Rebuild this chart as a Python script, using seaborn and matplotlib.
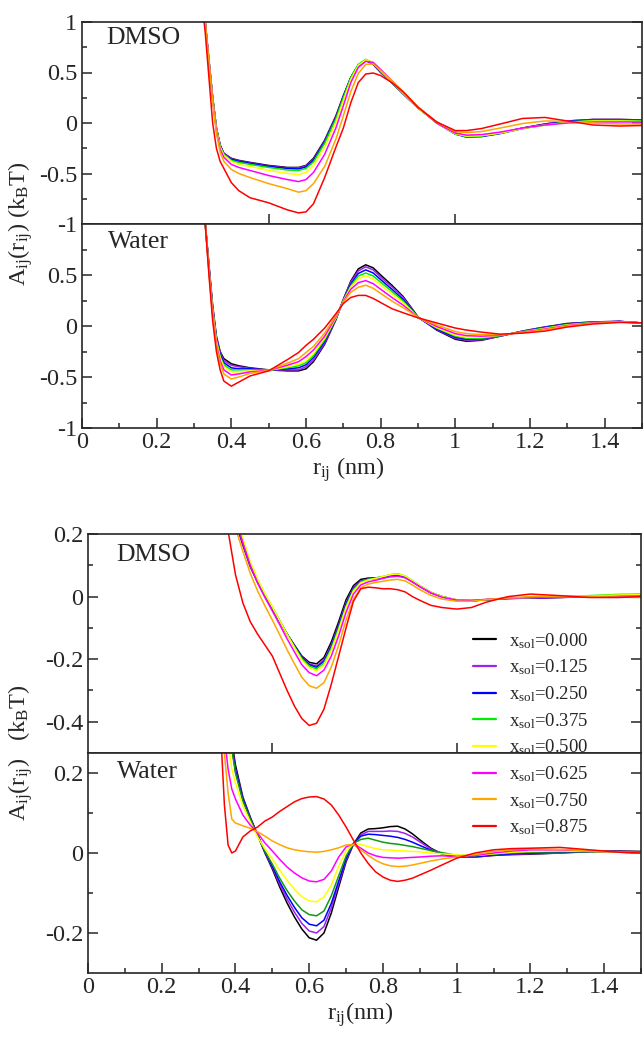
import numpy as np
import pandas as pd
import matplotlib
matplotlib.use("Agg")
import matplotlib.pyplot as plt
import seaborn as sns
from matplotlib.ticker import MultipleLocator, FixedLocator, FuncFormatter, NullLocator
from matplotlib.lines import Line2D

# ---------------- data ----------------
compositions = ["0.000", "0.125", "0.250", "0.375", "0.500", "0.625", "0.750", "0.875"]
colors = ["#000000", "#a020f0", "#0000ff", "#00ee00", "#ffff00", "#ff00ff", "#ffa500", "#ff0000"]
colors_bottom_water = ["#000000", "#a020f0", "#0000ff", "#119a11", "#ffff00", "#ff00ff", "#ffa500", "#ff0000"]

r_top = [0.32, 0.33, 0.34, 0.35, 0.36, 0.37, 0.38, 0.40, 0.42, 0.45, 0.50, 0.55, 0.58, 0.60,
         0.62, 0.65, 0.68, 0.70, 0.72, 0.74, 0.76, 0.78, 0.80, 0.83, 0.86, 0.90, 0.95, 1.00,
         1.03, 1.07, 1.12, 1.18, 1.24, 1.30, 1.37, 1.44, 1.50]

top_dmso = [
    [1.35, 1.00, 0.62, 0.25, -0.05, -0.22, -0.30, -0.35, -0.37, -0.39, -0.42, -0.44, -0.44, -0.42, -0.35, -0.17, 0.07, 0.27, 0.45, 0.57, 0.62, 0.58, 0.50, 0.40, 0.29, 0.15, 0.01, -0.10, -0.13, -0.13, -0.10, -0.05, -0.01, 0.02, 0.035, 0.035, 0.03],
    [1.35, 1.00, 0.62, 0.25, -0.05, -0.22, -0.30, -0.355, -0.375, -0.395, -0.425, -0.445, -0.445, -0.425, -0.36, -0.18, 0.06, 0.26, 0.45, 0.57, 0.62, 0.585, 0.505, 0.40, 0.29, 0.15, 0.005, -0.105, -0.135, -0.13, -0.10, -0.05, -0.01, 0.02, 0.035, 0.035, 0.03],
    [1.35, 1.00, 0.62, 0.25, -0.05, -0.22, -0.31, -0.36, -0.38, -0.40, -0.43, -0.45, -0.455, -0.435, -0.37, -0.19, 0.05, 0.26, 0.45, 0.575, 0.625, 0.59, 0.51, 0.40, 0.29, 0.15, 0.0, -0.11, -0.14, -0.135, -0.105, -0.055, -0.015, 0.015, 0.03, 0.03, 0.025],
    [1.35, 1.00, 0.62, 0.25, -0.05, -0.23, -0.31, -0.37, -0.39, -0.41, -0.44, -0.465, -0.47, -0.45, -0.385, -0.20, 0.04, 0.25, 0.45, 0.58, 0.63, 0.595, 0.51, 0.40, 0.29, 0.15, 0.0, -0.11, -0.135, -0.13, -0.10, -0.055, -0.02, 0.01, 0.025, 0.025, 0.02],
    [1.35, 1.00, 0.62, 0.24, -0.06, -0.24, -0.32, -0.38, -0.41, -0.43, -0.47, -0.50, -0.51, -0.49, -0.42, -0.24, 0.01, 0.22, 0.43, 0.57, 0.625, 0.60, 0.52, 0.41, 0.30, 0.15, 0.0, -0.105, -0.13, -0.125, -0.10, -0.055, -0.02, 0.005, 0.02, 0.02, 0.015],
    [1.35, 1.00, 0.61, 0.23, -0.08, -0.26, -0.34, -0.41, -0.44, -0.47, -0.52, -0.56, -0.58, -0.56, -0.49, -0.31, -0.05, 0.17, 0.40, 0.55, 0.61, 0.60, 0.53, 0.42, 0.31, 0.16, 0.0, -0.10, -0.12, -0.115, -0.09, -0.05, -0.02, 0.0, 0.01, 0.01, 0.01],
    [1.35, 0.99, 0.60, 0.21, -0.10, -0.29, -0.38, -0.46, -0.50, -0.54, -0.60, -0.65, -0.685, -0.67, -0.60, -0.43, -0.16, 0.07, 0.31, 0.49, 0.58, 0.585, 0.52, 0.42, 0.31, 0.16, 0.01, -0.085, -0.095, -0.085, -0.05, -0.005, 0.02, 0.015, 0.0, -0.01, -0.01],
    [1.25, 0.90, 0.45, 0.0, -0.25, -0.38, -0.45, -0.59, -0.67, -0.74, -0.79, -0.86, -0.89, -0.88, -0.80, -0.54, -0.24, -0.05, 0.20, 0.40, 0.485, 0.495, 0.47, 0.40, 0.31, 0.155, 0.01, -0.075, -0.075, -0.055, -0.01, 0.045, 0.055, 0.02, -0.02, -0.03, -0.025],
]

top_water = [
    [1.4, 1.02, 0.60, 0.20, -0.10, -0.25, -0.32, -0.37, -0.39, -0.41, -0.43, -0.44, -0.44, -0.42, -0.35, -0.18, 0.06, 0.26, 0.44, 0.56, 0.60, 0.57, 0.50, 0.40, 0.29, 0.09, -0.04, -0.13, -0.15, -0.14, -0.10, -0.05, -0.01, 0.025, 0.04, 0.045, 0.03],
    [1.4, 1.01, 0.59, 0.19, -0.11, -0.26, -0.34, -0.385, -0.40, -0.415, -0.435, -0.43, -0.43, -0.40, -0.335, -0.17, 0.065, 0.26, 0.43, 0.54, 0.58, 0.55, 0.48, 0.385, 0.28, 0.085, -0.035, -0.12, -0.14, -0.135, -0.10, -0.05, -0.01, 0.02, 0.04, 0.045, 0.03],
    [1.4, 1.01, 0.58, 0.17, -0.13, -0.28, -0.36, -0.41, -0.42, -0.42, -0.435, -0.42, -0.41, -0.38, -0.31, -0.15, 0.07, 0.255, 0.41, 0.515, 0.55, 0.52, 0.455, 0.36, 0.26, 0.085, -0.03, -0.11, -0.13, -0.125, -0.095, -0.055, -0.015, 0.02, 0.035, 0.045, 0.03],
    [1.4, 1.01, 0.57, 0.16, -0.14, -0.30, -0.38, -0.43, -0.43, -0.43, -0.435, -0.41, -0.39, -0.36, -0.29, -0.135, 0.075, 0.25, 0.395, 0.49, 0.52, 0.49, 0.43, 0.34, 0.245, 0.085, -0.02, -0.10, -0.12, -0.12, -0.095, -0.055, -0.02, 0.015, 0.035, 0.04, 0.03],
    [1.4, 1.01, 0.56, 0.15, -0.15, -0.31, -0.40, -0.45, -0.45, -0.44, -0.435, -0.40, -0.375, -0.34, -0.27, -0.12, 0.08, 0.245, 0.38, 0.465, 0.49, 0.46, 0.40, 0.315, 0.23, 0.085, -0.015, -0.09, -0.11, -0.11, -0.09, -0.06, -0.025, 0.01, 0.03, 0.04, 0.03],
    [1.4, 1.01, 0.55, 0.12, -0.18, -0.34, -0.43, -0.48, -0.47, -0.45, -0.435, -0.385, -0.35, -0.30, -0.235, -0.10, 0.09, 0.24, 0.36, 0.425, 0.445, 0.415, 0.36, 0.28, 0.205, 0.085, -0.005, -0.075, -0.095, -0.10, -0.09, -0.06, -0.03, 0.005, 0.03, 0.04, 0.03],
    [1.4, 1.01, 0.53, 0.10, -0.20, -0.37, -0.47, -0.52, -0.50, -0.465, -0.435, -0.365, -0.32, -0.26, -0.20, -0.07, 0.10, 0.235, 0.33, 0.38, 0.40, 0.37, 0.32, 0.245, 0.18, 0.085, 0.01, -0.055, -0.075, -0.085, -0.085, -0.065, -0.035, 0.0, 0.025, 0.04, 0.03],
    [1.4, 1.00, 0.50, 0.05, -0.25, -0.43, -0.54, -0.59, -0.55, -0.49, -0.44, -0.33, -0.26, -0.19, -0.13, -0.02, 0.12, 0.22, 0.28, 0.30, 0.30, 0.27, 0.23, 0.17, 0.13, 0.08, 0.03, -0.02, -0.04, -0.06, -0.08, -0.07, -0.05, -0.01, 0.02, 0.035, 0.03],
]

r_bot_dmso = [0.36, 0.38, 0.40, 0.42, 0.44, 0.46, 0.48, 0.50, 0.52, 0.54, 0.56, 0.58, 0.60, 0.62,
              0.64, 0.66, 0.68, 0.70, 0.72, 0.74, 0.76, 0.78, 0.80, 0.82, 0.84, 0.86, 0.88, 0.90,
              0.93, 0.96, 1.00, 1.04, 1.08, 1.14, 1.20, 1.28, 1.36, 1.44, 1.50]

bot_dmso = [
    [0.45, 0.33, 0.24, 0.165, 0.096, 0.045, 0.0, -0.04, -0.08, -0.12, -0.155, -0.19, -0.21, -0.215, -0.195, -0.145, -0.08, -0.01, 0.035, 0.055, 0.059, 0.06, 0.062, 0.067, 0.07, 0.062, 0.047, 0.032, 0.012, 0.0, -0.012, -0.014, -0.01, -0.006, -0.005, -0.003, 0.0, 0.003, 0.003],
    [0.46, 0.335, 0.245, 0.17, 0.10, 0.048, 0.003, -0.038, -0.079, -0.12, -0.157, -0.193, -0.215, -0.222, -0.203, -0.155, -0.09, -0.02, 0.028, 0.05, 0.056, 0.058, 0.061, 0.066, 0.068, 0.062, 0.048, 0.033, 0.012, 0.0, -0.011, -0.014, -0.01, -0.006, -0.005, -0.003, 0.0, 0.003, 0.004],
    [0.46, 0.34, 0.25, 0.175, 0.104, 0.05, 0.005, -0.036, -0.078, -0.12, -0.158, -0.195, -0.218, -0.226, -0.207, -0.16, -0.095, -0.025, 0.025, 0.048, 0.055, 0.058, 0.062, 0.067, 0.069, 0.063, 0.049, 0.034, 0.013, 0.0, -0.011, -0.013, -0.01, -0.006, -0.004, -0.002, 0.001, 0.004, 0.005],
    [0.47, 0.345, 0.255, 0.18, 0.108, 0.053, 0.007, -0.034, -0.077, -0.12, -0.16, -0.198, -0.222, -0.231, -0.212, -0.165, -0.10, -0.03, 0.022, 0.047, 0.055, 0.059, 0.064, 0.07, 0.073, 0.066, 0.051, 0.035, 0.014, 0.0, -0.011, -0.013, -0.01, -0.005, -0.003, 0.0, 0.003, 0.007, 0.008],
    [0.48, 0.35, 0.26, 0.185, 0.112, 0.056, 0.009, -0.033, -0.077, -0.121, -0.163, -0.203, -0.228, -0.238, -0.218, -0.172, -0.107, -0.035, 0.018, 0.044, 0.053, 0.058, 0.064, 0.07, 0.072, 0.066, 0.051, 0.035, 0.014, 0.0, -0.01, -0.012, -0.009, -0.005, -0.003, 0.0, 0.002, 0.005, 0.006],
    [0.46, 0.34, 0.25, 0.172, 0.10, 0.044, -0.003, -0.046, -0.09, -0.135, -0.177, -0.218, -0.243, -0.253, -0.235, -0.19, -0.125, -0.05, 0.008, 0.037, 0.047, 0.052, 0.058, 0.063, 0.065, 0.06, 0.047, 0.032, 0.012, -0.002, -0.011, -0.012, -0.009, -0.005, -0.003, -0.002, 0.0, 0.0, 0.0],
    [0.42, 0.31, 0.22, 0.145, 0.075, 0.018, -0.03, -0.075, -0.122, -0.17, -0.215, -0.258, -0.285, -0.293, -0.275, -0.225, -0.155, -0.075, -0.008, 0.028, 0.04, 0.045, 0.049, 0.053, 0.055, 0.05, 0.037, 0.022, 0.004, -0.008, -0.015, -0.015, -0.01, -0.004, 0.0, 0.0, 0.0, -0.002, -0.003],
    [0.32, 0.21, 0.07, -0.02, -0.08, -0.12, -0.155, -0.19, -0.245, -0.30, -0.35, -0.39, -0.412, -0.405, -0.36, -0.28, -0.19, -0.10, -0.015, 0.025, 0.03, 0.028, 0.025, 0.025, 0.022, 0.015, 0.0, -0.012, -0.028, -0.035, -0.04, -0.035, -0.018, 0.0, 0.008, 0.003, -0.003, -0.003, 0.0],
]

r_bot_water = [0.36, 0.37, 0.38, 0.39, 0.40, 0.42, 0.44, 0.46, 0.48, 0.50, 0.52, 0.54, 0.56, 0.58,
               0.60, 0.62, 0.64, 0.66, 0.68, 0.70, 0.72, 0.74, 0.76, 0.78, 0.80, 0.82, 0.84, 0.86,
               0.88, 0.90, 0.93, 0.96, 1.00, 1.05, 1.10, 1.15, 1.20, 1.28, 1.36, 1.44, 1.50]

bot_water = [
    [0.6, 0.48, 0.37, 0.28, 0.22, 0.14, 0.09, 0.045, 0.0, -0.04, -0.085, -0.125, -0.16, -0.19, -0.212, -0.218, -0.2, -0.15, -0.085, -0.022, 0.022, 0.05, 0.06, 0.061, 0.063, 0.066, 0.067, 0.06, 0.048, 0.033, 0.012, -0.002, -0.01, -0.01, -0.006, -0.004, -0.003, 0.0, 0.004, 0.005, 0.004],
    [0.58, 0.46, 0.355, 0.27, 0.21, 0.137, 0.088, 0.045, 0.002, -0.036, -0.078, -0.115, -0.148, -0.176, -0.195, -0.2, -0.184, -0.137, -0.077, -0.018, 0.022, 0.045, 0.054, 0.054, 0.054, 0.055, 0.054, 0.049, 0.04, 0.028, 0.01, -0.002, -0.009, -0.01, -0.006, -0.003, -0.002, 0.0, 0.003, 0.004, 0.003],
    [0.57, 0.45, 0.35, 0.265, 0.205, 0.135, 0.087, 0.045, 0.003, -0.033, -0.072, -0.106, -0.136, -0.162, -0.178, -0.182, -0.168, -0.126, -0.07, -0.014, 0.024, 0.042, 0.047, 0.046, 0.044, 0.042, 0.039, 0.034, 0.027, 0.019, 0.007, -0.002, -0.008, -0.009, -0.005, -0.002, 0.0, 0.002, 0.003, 0.003, 0.002],
    [0.56, 0.44, 0.34, 0.26, 0.2, 0.13, 0.085, 0.044, 0.004, -0.028, -0.063, -0.094, -0.12, -0.142, -0.154, -0.157, -0.145, -0.107, -0.057, -0.008, 0.024, 0.034, 0.037, 0.032, 0.027, 0.024, 0.022, 0.019, 0.016, 0.012, 0.006, 0.001, -0.006, -0.007, -0.003, 0.0, 0.002, 0.003, 0.003, 0.002, 0.001],
    [0.48, 0.36, 0.28, 0.21, 0.175, 0.118, 0.078, 0.04, 0.01, -0.015, -0.043, -0.068, -0.091, -0.109, -0.12, -0.122, -0.11, -0.08, -0.033, 0.005, 0.023, 0.022, 0.016, 0.011, 0.008, 0.007, 0.006, 0.005, 0.004, 0.003, 0.0, -0.002, -0.005, -0.006, -0.002, 0.002, 0.004, 0.005, 0.004, 0.002, 0.001],
    [0.40, 0.29, 0.21, 0.16, 0.135, 0.095, 0.07, 0.05, 0.025, 0.005, -0.016, -0.035, -0.05, -0.062, -0.07, -0.072, -0.066, -0.045, -0.01, 0.015, 0.023, 0.012, 0.0, -0.007, -0.011, -0.012, -0.013, -0.012, -0.011, -0.01, -0.008, -0.007, -0.009, -0.006, 0.0, 0.005, 0.008, 0.008, 0.005, 0.002, 0.0],
    [0.36, 0.25, 0.15, 0.085, 0.075, 0.068, 0.062, 0.053, 0.042, 0.03, 0.021, 0.013, 0.008, 0.005, 0.003, 0.002, 0.004, 0.008, 0.013, 0.02, 0.021, 0.008, -0.006, -0.018, -0.027, -0.032, -0.034, -0.033, -0.03, -0.026, -0.02, -0.015, -0.01, -0.004, 0.004, 0.008, 0.01, 0.009, 0.005, 0.002, 0.0],
    [0.30, 0.12, 0.02, 0.0, 0.005, 0.04, 0.055, 0.065, 0.08, 0.09, 0.104, 0.116, 0.128, 0.136, 0.14, 0.141, 0.135, 0.12, 0.095, 0.065, 0.032, 0.0, -0.026, -0.047, -0.06, -0.068, -0.071, -0.068, -0.063, -0.055, -0.043, -0.03, -0.013, 0.0, 0.008, 0.011, 0.012, 0.014, 0.008, 0.002, 0.0],
]

# ---------------- style ----------------
sns.set_style("ticks")
plt.rcParams["font.family"] = ["Liberation Serif", "DejaVu Serif"]
plt.rcParams["mathtext.fontset"] = "custom"
plt.rcParams["mathtext.rm"] = "Liberation Serif"
plt.rcParams["mathtext.it"] = "Liberation Serif:italic"
plt.rcParams["mathtext.bf"] = "Liberation Serif:bold"
plt.rcParams["axes.unicode_minus"] = False

W, H = 644, 1037
fig = plt.figure(figsize=(W / 100, H / 100), dpi=100)

TICK_FS = 17.5
LABEL_FS = 17.5
PANEL_FS = 18.5


def frac_axes(left, top, right, bottom):
    return fig.add_axes([left / W, 1 - bottom / H, (right - left) / W, (bottom - top) / H])


def fmt(v, pos):
    v = round(v, 6)
    if v == 0:
        return "0"
    return "%g" % v


def long_df(r, rows):
    frames = []
    for comp, vals in zip(compositions, rows):
        frames.append(pd.DataFrame({"r": r, "A": vals, "x_sol": comp}))
    return pd.concat(frames, ignore_index=True)


def draw(ax, r, rows, pal):
    df = long_df(r, rows)
    sns.lineplot(data=df, x="r", y="A", hue="x_sol", palette=pal, hue_order=compositions,
                 estimator=None, sort=False, lw=1.1, legend=False, ax=ax)
    ax.set_xlabel("")
    ax.set_ylabel("")
    ax.set_xlim(0, 1.5)
    for s in ax.spines.values():
        s.set_linewidth(1.2)
        s.set_visible(True)
    ax.tick_params(which="both", direction="in", left=True, right=True, top=False,
                   bottom=True, width=1.1, labelsize=TICK_FS)
    ax.tick_params(which="major", length=7)
    ax.tick_params(which="minor", length=3.5)
    ax.yaxis.set_major_formatter(FuncFormatter(fmt))
    ax.xaxis.set_major_formatter(FuncFormatter(fmt))


def dmso_x(ax):
    ax.xaxis.set_major_locator(FixedLocator([0.5, 1.0]))
    ax.xaxis.set_minor_locator(NullLocator())
    ax.tick_params(labelbottom=False)


def water_x(ax):
    ax.xaxis.set_major_locator(MultipleLocator(0.2))
    ax.xaxis.set_minor_locator(MultipleLocator(0.1))
    ax.tick_params(axis="x", pad=3)


# top group
ax1 = frac_axes(82, 22, 642, 224)
draw(ax1, r_top, top_dmso, colors)
ax1.set_ylim(-1, 1)
ax1.yaxis.set_major_locator(FixedLocator([-1, -0.5, 0, 0.5, 1]))
ax1.yaxis.set_minor_locator(FixedLocator([-0.75, -0.25, 0.25, 0.75]))
dmso_x(ax1)
ax1.text(0.044, 0.975, "DMSO", transform=ax1.transAxes, fontsize=PANEL_FS, va="top", ha="left")

ax2 = frac_axes(82, 224, 642, 428)
draw(ax2, r_top, top_water, colors)
ax2.set_ylim(-1, 1)
ax2.yaxis.set_major_locator(FixedLocator([-1, -0.5, 0, 0.5]))
ax2.yaxis.set_minor_locator(FixedLocator([-0.75, -0.25, 0.25, 0.75]))
water_x(ax2)
ax2.text(0.046, 0.965, "Water", transform=ax2.transAxes, fontsize=PANEL_FS, va="top", ha="left")

# bottom group
ax3 = frac_axes(88, 534, 641, 753)
draw(ax3, r_bot_dmso, bot_dmso, colors)
ax3.set_ylim(-0.5, 0.2)
ax3.yaxis.set_major_locator(FixedLocator([-0.4, -0.2, 0, 0.2]))
ax3.yaxis.set_minor_locator(FixedLocator([-0.3, -0.1, 0.1]))
dmso_x(ax3)
ax3.text(0.051, 0.955, "DMSO", transform=ax3.transAxes, fontsize=PANEL_FS, va="top", ha="left")

ax4 = frac_axes(88, 753, 641, 973)
draw(ax4, r_bot_water, bot_water, colors_bottom_water)
ax4.set_ylim(-0.3, 0.25)
ax4.yaxis.set_major_locator(FixedLocator([-0.2, 0, 0.2]))
ax4.yaxis.set_minor_locator(FixedLocator([-0.1, 0.1]))
water_x(ax4)
ax4.text(0.053, 0.965, "Water", transform=ax4.transAxes, fontsize=PANEL_FS, va="top", ha="left")

# axis labels
fig.text(21 / W, 1 - 224 / H, r"A$_{\rm ij}$(r$_{\rm ij}$) (k$_{\rm B}$T)", rotation=90,
         ha="center", va="center", fontsize=LABEL_FS)
fig.text(21 / W, 1 - 753 / H, r"A$_{\rm ij}$(r$_{\rm ij}$)   (k$_{\rm B}$T)", rotation=90,
         ha="center", va="center", fontsize=LABEL_FS)
fig.text(348 / W, 1 - 470 / H, r"r$_{\rm ij}$ (nm)", ha="center", va="center", fontsize=LABEL_FS)
fig.text(360 / W, 1 - 1015 / H, r"r$_{\rm ij}$(nm)", ha="center", va="center", fontsize=LABEL_FS)

# legend
handles = [Line2D([0], [0], color=c, lw=1.6) for c in colors]
labels = [r"x$_{\rm sol}$=" + c for c in compositions]
fig.legend(handles, labels, loc="upper left", bbox_to_anchor=(473 / W, 1 - 631 / H),
           frameon=False, fontsize=13.5, handlelength=1.25, handletextpad=0.65,
           labelspacing=0.37, borderpad=0, borderaxespad=0)

fig.savefig("out.png", dpi=100)
